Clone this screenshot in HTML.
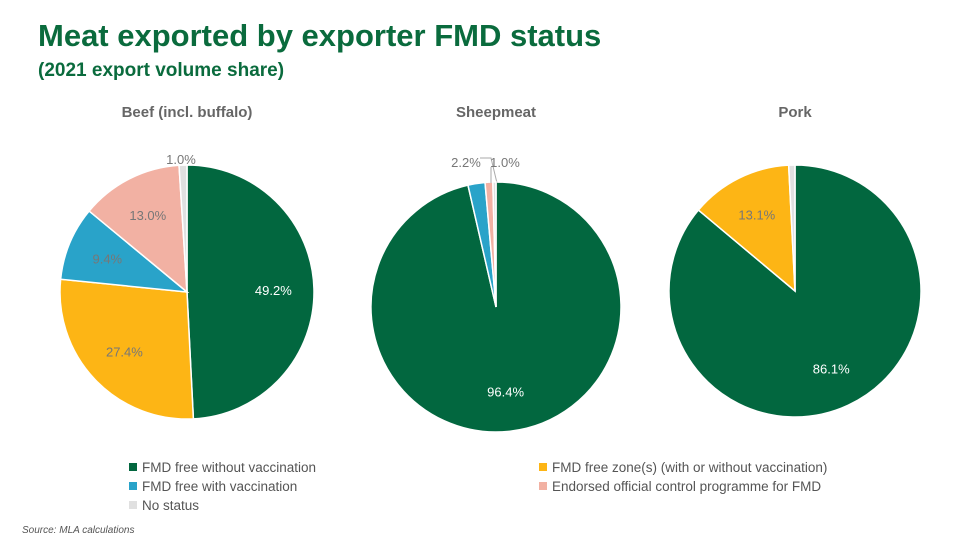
<!DOCTYPE html>
<html><head><meta charset="utf-8">
<style>
body{margin:0;width:977px;height:545px;background:#fff;font-family:"Liberation Sans",sans-serif;overflow:hidden;position:relative}
.t{position:absolute;white-space:nowrap}
</style></head><body>
<div class="t" style="left:38px;top:18px;font-size:31px;font-weight:bold;color:#0a6b3d">Meat exported by exporter FMD status</div>
<div class="t" style="left:38px;top:60px;font-size:19px;font-weight:bold;color:#0a6b3d">(2021 export volume share)</div>
<svg id="c" width="977" height="545" style="position:absolute;left:0;top:0"></svg>
<div class="t" style="left:22px;top:525px;font-size:10px;font-style:italic;color:#555">Source: MLA calculations</div>
<script>
const categories=["FMD free without vaccination","FMD free zone(s) (with or without vaccination)","FMD free with vaccination","Endorsed official control programme for FMD","No status"];
const colors=["#02673f","#fdb515","#29a3c9","#f2b1a3","#e0e0e0"];
const beefValues=[49.2,27.4,9.4,13.0,1.0];
const sheepValues=[96.4,0,2.2,1.0,0.4];
const porkValues=[86.1,13.1,0,0,0.8];
const charts=[
 {title:"Beef (incl. buffalo)",values:beefValues,cx:187,cy:292,r:127,name:"beef"},
 {title:"Sheepmeat",values:sheepValues,cx:496,cy:307,r:125,name:"sheepmeat"},
 {title:"Pork",values:porkValues,cx:795,cy:291,r:126,name:"pork"}];
const titleY=[117,117,117];
const svg=document.getElementById('c');const NS="http://www.w3.org/2000/svg";
function mk(t,a,p){const e=document.createElementNS(NS,t);for(const k in a)e.setAttribute(k,a[k]);(p||svg).appendChild(e);return e;}
function pt(cx,cy,r,f){const a=f*2*Math.PI;return [cx+r*Math.sin(a),cy-r*Math.cos(a)];}
charts.forEach((c,ci)=>{
 const g=mk('g',{});
 const tt=mk('text',{x:c.cx,y:titleY[ci],'text-anchor':'middle','font-size':15,'font-weight':'bold',fill:'#666'},g);tt.textContent=c.title;
 
 const tot=c.values.reduce((a,b)=>a+b,0);let acc=0;
 c.values.forEach((v,i)=>{if(v<=0)return;const f0=acc/tot,f1=(acc+v)/tot;acc+=v;
  const p0=pt(c.cx,c.cy,c.r,f0),p1=pt(c.cx,c.cy,c.r,f1);
  const s=mk('path',{d:`M${c.cx},${c.cy}L${p0[0]},${p0[1]}A${c.r},${c.r} 0 ${f1-f0>0.5?1:0} 1 ${p1[0]},${p1[1]}Z`,fill:colors[i],stroke:'#fff','stroke-width':1.5},g);
  
  if(v<0.9)return;
  const fm=(f0+f1)/2;let lp,anchor='middle',fill=i==0?'#fff':'#777';
  if(v<5){lp=pt(c.cx,c.cy,c.r+14,fm);}else{lp=pt(c.cx,c.cy,c.r*0.68,fm);}
  if(c.name=='beef'&&i==4)lp=[c.cx-6,c.cy-133];
  if(c.name=='sheepmeat'&&i==2){lp=[c.cx-30,c.cy-145];mk('polyline',{points:`${c.cx-16},${c.cy-149} ${c.cx-5},${c.cy-149} ${c.cx+1},${c.cy-124}`,fill:'none',stroke:'#aaa'},g);}
  if(c.name=='sheepmeat'&&i==3){lp=[c.cx+9,c.cy-145];mk('line',{x1:c.cx-5,y1:c.cy-140,x2:c.cx-5,y2:c.cy-124,stroke:'#aaa'},g);}
  const tx=mk('text',{x:lp[0],y:lp[1]+5,'text-anchor':anchor,'font-size':13,fill:fill},g);tx.textContent=v.toFixed(1)+'%';
  
 });
});
const legPos=[[133,467],[543,467],[133,486],[543,486],[133,505]];
categories.forEach((n,i)=>{const g=mk('g',{});
 mk('rect',{x:legPos[i][0]-4,y:legPos[i][1]-4,width:8,height:8,fill:colors[i]},g);
 const t=mk('text',{x:legPos[i][0]+9,y:legPos[i][1]+5,'font-size':13.5,fill:'#555'},g);t.textContent=n;});
</script>
</body></html>
